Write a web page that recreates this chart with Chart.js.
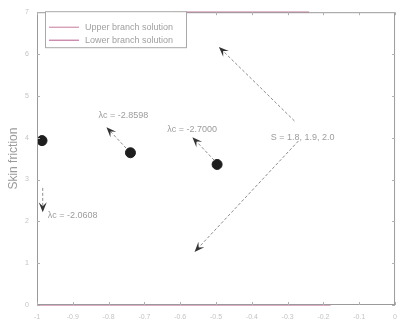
<!DOCTYPE html>
<html>
<head>
<meta charset="utf-8">
<script src="https://cdn.jsdelivr.net/npm/chart.js@4.4.1/dist/chart.umd.min.js"></script>
<style>
  html, body { margin: 0; padding: 0; background: #fff; }
  #wrap { width: 405px; height: 327px; }
</style>
</head>
<body>
<div id="wrap"><canvas id="c" width="405" height="327"></canvas></div>
<script>
// Axis ticks
const xTicks = [-1, -0.9, -0.8, -0.7, -0.6, -0.5, -0.4, -0.3, -0.2, -0.1, 0];
const yTicks = [0, 1, 2, 3, 4, 5, 6, 7];

// Solution branches (segments that remain inside the frame)
const upperX = [-0.62, -0.24];
const upperY = [7, 7];
const lowerX = [-1, -0.18];
const lowerY = [0, 0];

// Turning points of the three curves
const criticalX = [-0.986, -0.739, -0.497];
const criticalY = [3.93, 3.64, 3.36];

// Arrow annotations: start / end in data units
const arrowFromX = [-0.984, -0.751, -0.505, -0.281, -0.270];
const arrowFromY = [2.80, 3.75, 3.46, 4.40, 3.92];
const arrowToX   = [-0.984, -0.806, -0.566, -0.492, -0.560];
const arrowToY   = [2.22, 4.25, 4.01, 6.17, 1.27];

// Text annotations
const noteText = ['λc = -2.0608', 'λc = -2.8598', 'λc = -2.7000', 'S = 1.8, 1.9, 2.0'];
const noteX = [-0.970, -0.828, -0.636, -0.347];
const noteY = [2.15, 4.53, 4.20, 4.01];

const frameAndNotes = {
  id: 'frameAndNotes',
  afterDatasetsDraw(chart) {
    const { ctx, chartArea: a, scales } = chart;
    const xs = scales.x, ys = scales.y;
    ctx.save();
    // box frame with mirrored ticks
    ctx.strokeStyle = '#9a9a9a';
    ctx.lineWidth = 1;
    ctx.strokeRect(a.left + 0.5, a.top + 0.5, a.right - a.left - 1, a.bottom - a.top - 1);
    ctx.strokeStyle = '#b0b0b0';
    xTicks.forEach(v => {
      const px = Math.round(xs.getPixelForValue(v)) + 0.5;
      ctx.beginPath(); ctx.moveTo(px, a.bottom); ctx.lineTo(px, a.bottom - 3); ctx.stroke();
      ctx.beginPath(); ctx.moveTo(px, a.top); ctx.lineTo(px, a.top + 3); ctx.stroke();
    });
    yTicks.forEach(v => {
      const py = Math.round(ys.getPixelForValue(v)) + 0.5;
      ctx.beginPath(); ctx.moveTo(a.left, py); ctx.lineTo(a.left + 3, py); ctx.stroke();
      ctx.beginPath(); ctx.moveTo(a.right, py); ctx.lineTo(a.right - 3, py); ctx.stroke();
    });

    // arrows
    for (let i = 0; i < arrowFromX.length; i++) {
      const x1 = xs.getPixelForValue(arrowFromX[i]), y1 = ys.getPixelForValue(arrowFromY[i]);
      const x2 = xs.getPixelForValue(arrowToX[i]), y2 = ys.getPixelForValue(arrowToY[i]);
      const ang = Math.atan2(y2 - y1, x2 - x1);
      ctx.strokeStyle = '#8c8c8c';
      ctx.setLineDash([3, 2]);
      ctx.lineWidth = 1;
      ctx.beginPath(); ctx.moveTo(x1, y1); ctx.lineTo(x2 - 5 * Math.cos(ang), y2 - 5 * Math.sin(ang)); ctx.stroke();
      ctx.setLineDash([]);
      ctx.fillStyle = '#333';
      const L = 10, W = 4;
      ctx.beginPath();
      ctx.moveTo(x2, y2);
      ctx.lineTo(x2 - L * Math.cos(ang) + W * Math.sin(ang), y2 - L * Math.sin(ang) - W * Math.cos(ang));
      ctx.lineTo(x2 - 0.6 * L * Math.cos(ang), y2 - 0.6 * L * Math.sin(ang));
      ctx.lineTo(x2 - L * Math.cos(ang) - W * Math.sin(ang), y2 - L * Math.sin(ang) + W * Math.cos(ang));
      ctx.closePath();
      ctx.fill();
    }

    // annotation text
    ctx.fillStyle = '#9c9c9c';
    ctx.font = '9px "Liberation Sans", Arial, sans-serif';
    ctx.textBaseline = 'middle';
    ctx.textAlign = 'left';
    noteText.forEach((t, i) => {
      ctx.fillText(t, xs.getPixelForValue(noteX[i]), ys.getPixelForValue(noteY[i]));
    });

    // legend box in the upper-left corner
    const lx = a.left + 8, ly = a.top - 1, lw = 141, lh = 36;
    ctx.fillStyle = '#fff';
    ctx.fillRect(lx, ly, lw, lh);
    ctx.strokeStyle = '#a8a8a8';
    ctx.strokeRect(lx + 0.5, ly + 0.5, lw, lh);
    chart.data.datasets.slice(0, 2).forEach((ds, i) => {
      const yy = ly + 16 + i * 13;
      ctx.strokeStyle = ds.borderColor;
      ctx.lineWidth = 1;
      ctx.beginPath(); ctx.moveTo(lx + 4, yy); ctx.lineTo(lx + 34, yy); ctx.stroke();
      ctx.fillStyle = '#a0a0a0';
      ctx.font = '9px "Liberation Sans", Arial, sans-serif';
      ctx.fillText(ds.label, lx + 40, yy);
    });
    ctx.restore();
  }
};

new Chart(document.getElementById('c'), {
  type: 'scatter',
  data: {
    datasets: [
      {
        label: 'Upper branch solution',
        type: 'line',
        data: upperX.map((x, i) => ({ x, y: upperY[i] })),
        borderColor: '#c7779c',
        borderWidth: 1.2,
        pointRadius: 0,
        clip: false
      },
      {
        label: 'Lower branch solution',
        type: 'line',
        data: lowerX.map((x, i) => ({ x, y: lowerY[i] })),
        borderColor: '#b85a8a',
        borderWidth: 1.2,
        pointRadius: 0,
        clip: false
      },
      {
        label: 'Critical points',
        data: criticalX.map((x, i) => ({ x, y: criticalY[i] })),
        backgroundColor: '#1e1e1e',
        borderColor: '#1e1e1e',
        pointRadius: 5,
        pointHoverRadius: 5
      }
    ]
  },
  options: {
    responsive: false,
    animation: false,
    layout: { padding: { top: 11, right: 2, left: 6, bottom: 0 } },
    plugins: { legend: { display: false }, tooltip: { enabled: false } },
    scales: {
      x: {
        type: 'linear',
        min: -1, max: 0,
        afterBuildTicks: s => { s.ticks = xTicks.map(v => ({ value: v })); },
        grid: { display: false, drawTicks: false },
        border: { display: false },
        ticks: {
          color: '#c4c4c4',
          font: { size: 7, family: '"Liberation Sans", Arial, sans-serif' },
          padding: 8,
          maxRotation: 0,
          callback: v => Number(v.toFixed(1)).toString()
        },
        afterFit: s => { s.height = 22; }
      },
      y: {
        type: 'linear',
        min: 0, max: 7,
        afterBuildTicks: s => { s.ticks = yTicks.map(v => ({ value: v })); },
        grid: { display: false, drawTicks: false },
        border: { display: false },
        ticks: {
          color: '#c4c4c4',
          font: { size: 7, family: '"Liberation Sans", Arial, sans-serif' },
          padding: 8
        },
        title: {
          display: true,
          text: 'Skin friction',
          color: '#9a9a9a',
          font: { size: 12, family: '"Liberation Sans", Arial, sans-serif' },
          padding: { top: 0, bottom: 1 }
        },
        afterFit: s => { s.width = 31; }
      }
    }
  },
  plugins: [frameAndNotes]
});
</script>
</body>
</html>
